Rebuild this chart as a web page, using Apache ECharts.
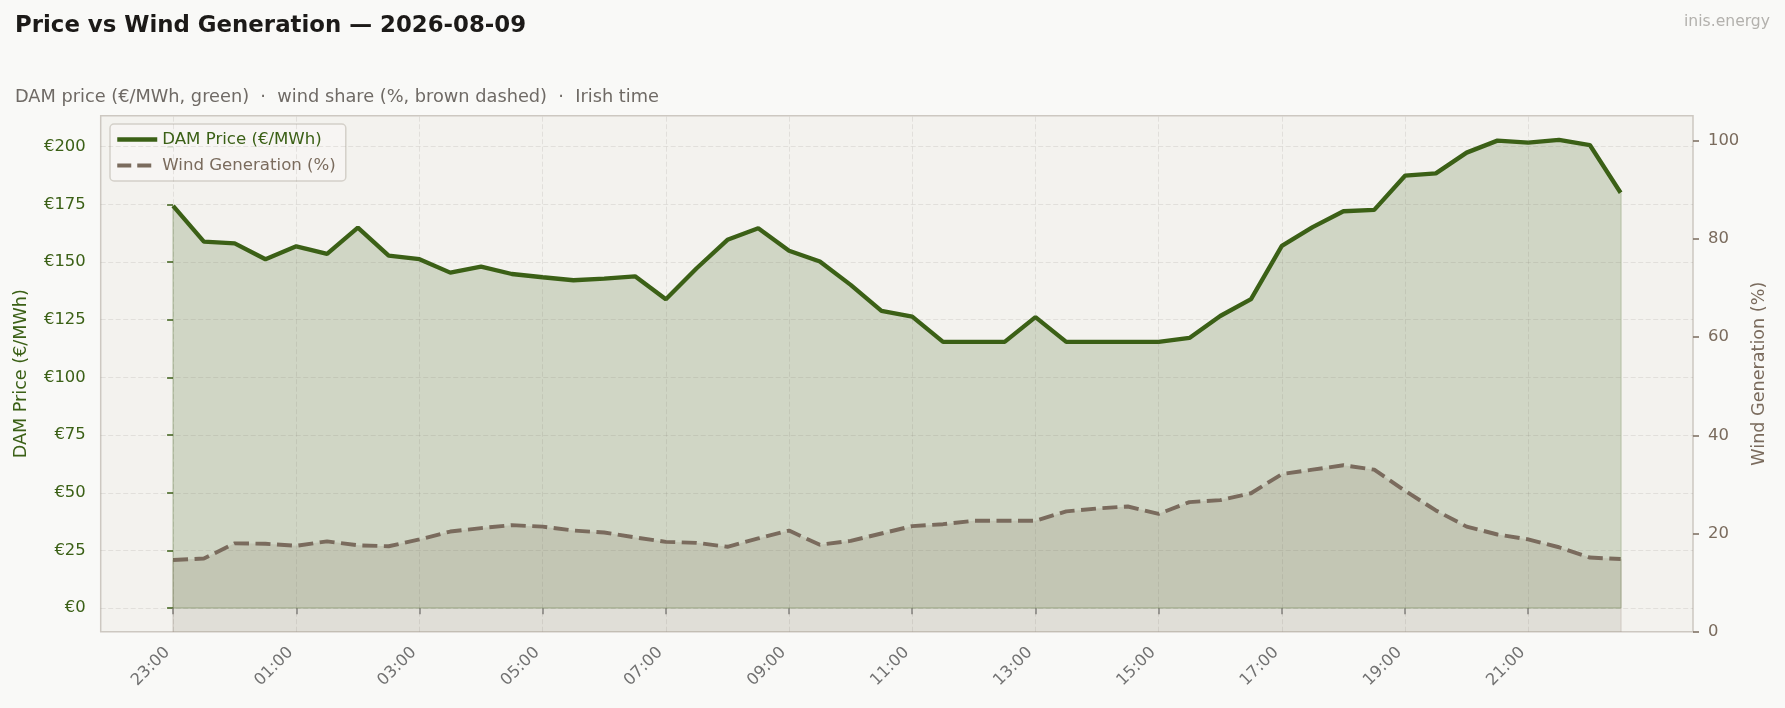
<!DOCTYPE html>
<html>
<head>
<meta charset="utf-8">
<script src="https://cdn.jsdelivr.net/npm/echarts@6/dist/echarts.min.js"></script>
<style>
  html, body { margin: 0; padding: 0; background: #f9f9f7; }
  #chart { width: 1785px; height: 708px; }
</style>
</head>
<body>
<div id="chart"></div>
<script>
// ---- data ----
const times = ['23:00','23:30','00:00','00:30','01:00','01:30','02:00','02:30','03:00','03:30','04:00','04:30',
  '05:00','05:30','06:00','06:30','07:00','07:30','08:00','08:30','09:00','09:30','10:00','10:30',
  '11:00','11:30','12:00','12:30','13:00','13:30','14:00','14:30','15:00','15:30','16:00','16:30',
  '17:00','17:30','18:00','18:30','19:00','19:30','20:00','20:30','21:00','21:30','22:00','22:30'];

const priceEUR = [174.3, 158.8, 158.1, 151.2, 156.8, 153.5, 164.9, 152.8, 151.2, 145.4, 148.0, 144.8,
  143.4, 142.1, 142.8, 143.8, 133.9, 147.3, 159.6, 164.6, 154.9, 150.2, 140.1, 128.8,
  126.3, 115.4, 115.4, 115.4, 126.1, 115.4, 115.4, 115.4, 115.4, 117.1, 126.6, 133.9,
  157.0, 165.1, 172.0, 172.6, 187.4, 188.4, 197.4, 202.6, 201.7, 202.9, 200.7, 180.0];

const windPct = [14.6, 14.9, 18.0, 17.9, 17.5, 18.4, 17.6, 17.4, 18.8, 20.4, 21.1, 21.7,
  21.4, 20.6, 20.2, 19.2, 18.3, 18.1, 17.3, 19.0, 20.6, 17.7, 18.5, 20.0,
  21.5, 21.9, 22.6, 22.6, 22.6, 24.5, 25.1, 25.5, 24.0, 26.4, 26.8, 28.2,
  32.1, 33.0, 33.9, 33.0, 28.7, 24.7, 21.4, 19.8, 18.8, 17.2, 15.1, 14.8];

const xTickLabels = ['23:00','01:00','03:00','05:00','07:00','09:00','11:00','13:00','15:00','17:00','19:00','21:00'];
const priceTicks = [0, 25, 50, 75, 100, 125, 150, 175, 200];
const windTicks = [0, 20, 40, 60, 80, 100];

// axis extents (matplotlib-style margins)
const xMin = -2.35, xMax = 49.35;
const priceMin = -10.2, priceMax = 213.4;
const windMin = 0, windMax = 105.1;

// ---- build ----
const xTickIdx = xTickLabels.map(l => times.indexOf(l));
const priceData = priceEUR.map((v, i) => [i, v]);
const windData = windPct.map((v, i) => [i, v]);
const lastIdx = times.length - 1;

const GREEN = '#3b6016';
const BROWN = '#7a6b5d';
const FONT = 'DejaVu Sans';

const gridLines = priceTicks.map(v => ({ yAxis: v })).concat(xTickIdx.map(i => ({ xAxis: i })));
const priceEdges = [
  [{ coord: [0, 0] }, { coord: [0, priceEUR[0]] }],
  [{ coord: [lastIdx, 0] }, { coord: [lastIdx, priceEUR[lastIdx]] }],
  [{ coord: [0, 0] }, { coord: [lastIdx, 0] }]
];
const windEdges = [
  [{ coord: [0, 0] }, { coord: [0, windPct[0]] }],
  [{ coord: [lastIdx, 0] }, { coord: [lastIdx, windPct[lastIdx]] }]
];

const chart = echarts.init(document.getElementById('chart'), null, { renderer: 'canvas' });
chart.setOption({
  animation: false,
  backgroundColor: '#f9f9f7',
  textStyle: { fontFamily: FONT },
  title: [
    { text: 'Price vs Wind Generation \u2014 2026-08-09', left: 15, top: 15, padding: 0,
      textStyle: { fontFamily: FONT, fontSize: 22.85, fontWeight: 'bold', color: '#1c1a18' } },
    { text: 'DAM price (\u20ac/MWh, green)  \u00b7  wind share (%, brown dashed)  \u00b7  Irish time', left: 15, top: 88, padding: 0,
      textStyle: { fontFamily: FONT, fontSize: 17.75, fontWeight: 'normal', color: '#6f6a65' } },
    { text: 'inis.energy', right: 15, top: 14, padding: 0,
      textStyle: { fontFamily: FONT, fontSize: 15.6, fontWeight: 'normal', color: '#b3b1ad' } }
  ],
  grid: {
    left: 100.7, right: 92, top: 115.7, bottom: 76.3,
    show: true, backgroundColor: '#f3f2ee', borderColor: '#cdc8c1', borderWidth: 1.5,
    containLabel: false
  },
  legend: {
    orient: 'vertical', left: 110, top: 124,
    backgroundColor: 'rgba(247,246,243,0.85)', borderColor: '#d4d0c9', borderWidth: 1.5, borderRadius: 4,
    padding: [7, 10, 7, 5], itemGap: 9, itemWidth: 40, itemHeight: 17,
    textStyle: { fontFamily: FONT, fontSize: 16.6 },
    itemStyle: { opacity: 0 },
    data: [
      { name: 'DAM Price (\u20ac/MWh)', textStyle: { color: GREEN },
        itemStyle: { opacity: 0 }, lineStyle: { color: GREEN, width: 4.5, type: 'solid' } },
      { name: 'Wind Generation (%)', textStyle: { color: BROWN },
        itemStyle: { opacity: 0 }, lineStyle: { color: BROWN, width: 4, type: [14, 6] } }
    ]
  },
  xAxis: {
    type: 'value', min: xMin, max: xMax,
    axisLine: { show: false },
    splitLine: { show: false },
    axisTick: { show: true, customValues: xTickIdx, length: 6, lineStyle: { color: '#858585', width: 1.5 } },
    axisLabel: {
      customValues: xTickIdx, rotate: 45, margin: 24,
      align: 'right', verticalAlign: 'bottom',
      fontFamily: FONT, fontSize: 16.3, color: '#717171',
      formatter: v => times[Math.round(v)] || ''
    }
  },
  yAxis: [
    {
      type: 'value', min: priceMin, max: priceMax, position: 'left',
      name: 'DAM Price (\u20ac/MWh)', nameLocation: 'middle', nameGap: 70,
      nameTextStyle: { fontFamily: FONT, fontSize: 17.6, color: GREEN },
      axisLine: { show: false },
      splitLine: { show: false },
      axisTick: { show: true, customValues: priceTicks, length: 6, lineStyle: { color: GREEN, width: 1.5 } },
      axisLabel: { customValues: priceTicks, margin: 15, fontFamily: FONT, fontSize: 16.4, color: GREEN,
        formatter: v => '\u20ac' + Math.round(v) }
    },
    {
      type: 'value', min: windMin, max: windMax, position: 'right',
      name: 'Wind Generation (%)', nameLocation: 'middle', nameGap: 55,
      nameTextStyle: { fontFamily: FONT, fontSize: 17.6, color: BROWN },
      axisLine: { show: false },
      splitLine: { show: false },
      axisTick: { show: true, customValues: windTicks, length: 6, lineStyle: { color: BROWN, width: 1.5 } },
      axisLabel: { customValues: windTicks, margin: 15, fontFamily: FONT, fontSize: 16.4, color: BROWN,
        formatter: v => String(Math.round(v)) }
    }
  ],
  series: [
    {
      name: 'DAM Price (\u20ac/MWh)', type: 'line', xAxisIndex: 0, yAxisIndex: 0,
      data: priceData, symbol: 'none', showSymbol: false, z: 3,
      lineStyle: { color: GREEN, width: 4.3 },
      itemStyle: { color: GREEN },
      areaStyle: { color: 'rgba(61,97,20,0.19)', opacity: 1, origin: 0 },
      markLine: {
        silent: true, symbol: ['none', 'none'], animation: false,
        label: { show: false }, emphasis: { disabled: true },
        lineStyle: { color: 'rgba(110,100,90,0.13)', width: 1, type: [5, 2.5] },
        data: gridLines.concat(priceEdges.map(seg => [
          Object.assign({}, seg[0], { lineStyle: { color: 'rgba(61,97,20,0.22)', width: 1.6, type: 'solid' } }),
          seg[1]
        ]))
      }
    },
    {
      name: 'Wind Generation (%)', type: 'line', xAxisIndex: 0, yAxisIndex: 1,
      data: windData, symbol: 'none', showSymbol: false, z: 4,
      lineStyle: { color: BROWN, width: 3.9, type: [15, 6.5] },
      itemStyle: { color: BROWN },
      areaStyle: { color: 'rgba(122,106,90,0.15)', opacity: 1, origin: 0 },
      markLine: {
        silent: true, symbol: ['none', 'none'], animation: false,
        label: { show: false }, emphasis: { disabled: true },
        lineStyle: { color: 'rgba(122,106,90,0.18)', width: 1.6, type: 'solid' },
        data: windEdges
      }
    }
  ]
});
</script>
</body>
</html>
